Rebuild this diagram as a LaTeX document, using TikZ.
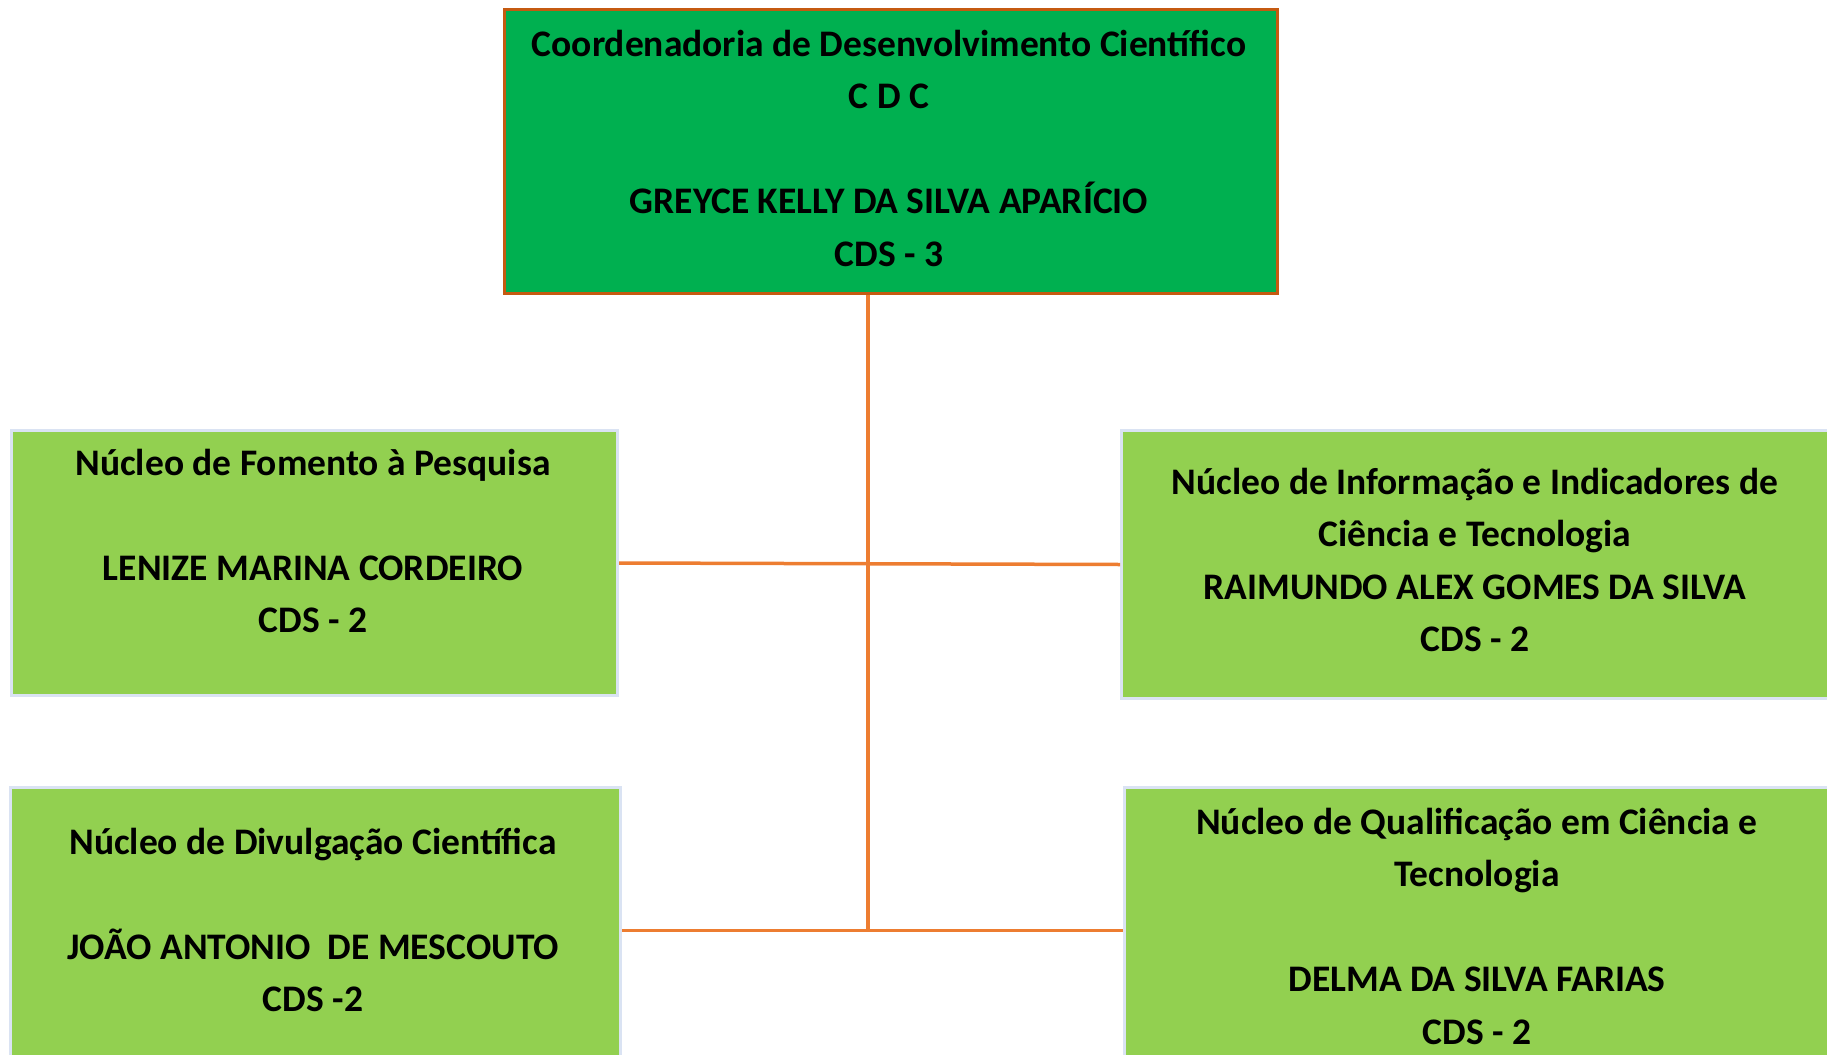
\documentclass[tikz,border=0pt]{standalone}
\usepackage{fontspec}
\setmainfont{Carlito}
\usetikzlibrary{positioning, calc}

\definecolor{verdeescuro}{HTML}{00B050}
\definecolor{verdeclaro}{HTML}{92D050}
\definecolor{laranja}{HTML}{ED7D31}
\definecolor{laranjaescuro}{HTML}{C55A11}
\definecolor{bordaclara}{HTML}{DAE3F3}

\begin{document}
\begin{tikzpicture}[x=1pt, y=-1pt,
  chefe/.style={draw=laranjaescuro, line width=3pt, fill=verdeescuro, anchor=north west, inner sep=0pt},
  caixa/.style={draw=bordaclara, line width=3pt, fill=verdeclaro, anchor=north west, inner sep=0pt},
  texto/.style={align=center, inner sep=0pt, font=\bfseries\fontsize{37.5}{52.5}\selectfont},
  ligacao/.style={draw=laranja, line width=3.5pt}]
  % page frame
  \useasboundingbox (0,0) rectangle (1827,1054);
  \clip (0,0) rectangle (1827,1054);
  % coordination box
  \node[chefe, minimum width=773pt, minimum height=284pt] (cdc) at (503,8) {};
  % the four nuclei
  \node[caixa, minimum width=606pt, minimum height=265pt] (fomento) at (10,429) {};
  \node[caixa, minimum width=710pt, minimum height=268pt] (informacao) at (1120,429) {};
  \node[caixa, minimum width=610pt, minimum height=286pt] (divulgacao) at (9,786) {};
  \node[caixa, minimum width=708pt, minimum height=286pt] (qualificacao) at (1123,786) {};
  % connectors
  \coordinate (base) at (868,929);
  \draw[ligacao] (cdc.south -| base) -- (base);
  \draw[ligacao] (fomento.east) -- (informacao.west);
  \draw[ligacao] (divulgacao.east) -- (qualificacao.west);
  % texts
  \node[texto] (t-cdc) at (889,148) {Coordenadoria de Desenvolvimento Científico\\C D C\\[52.5pt]GREYCE KELLY DA SILVA APARÍCIO\\CDS - 3};
  \node[texto] (t-fomento) at (313,541) {Núcleo de Fomento à Pesquisa\\[52.5pt]LENIZE MARINA CORDEIRO\\CDS - 2};
  \node[texto] (t-informacao) at (1475,560) {Núcleo de Informação e Indicadores de\\Ciência e Tecnologia\\RAIMUNDO ALEX GOMES DA SILVA\\CDS - 2};
  \node[texto] (t-divulgacao) at (313,920) {Núcleo de Divulgação Científica\\[52.5pt]JOÃO ANTONIO~~DE MESCOUTO\\CDS -2};
  \node[texto] (t-qualificacao) at (1477,926) {Núcleo de Qualificação em Ciência e\\Tecnologia\\[52.5pt]DELMA DA SILVA FARIAS\\CDS - 2};
\end{tikzpicture}
\end{document}
